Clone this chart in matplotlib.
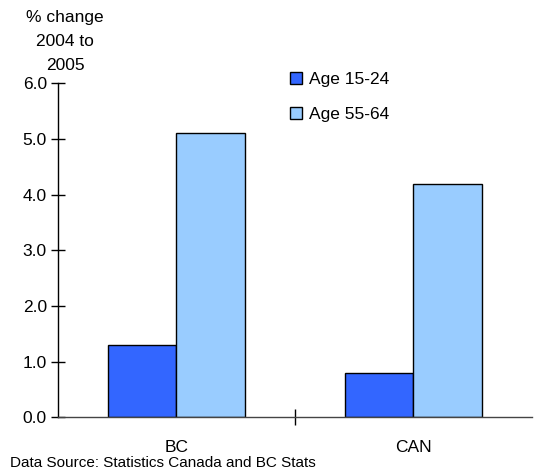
import numpy as np
import matplotlib.pyplot as plt

plt.rcParams['font.family'] = ['Liberation Sans', 'DejaVu Sans']

regions = ['BC', 'CAN']
age_15_24 = [1.3, 0.8]
age_55_64 = [5.1, 4.2]
series_names = ['Age 15-24', 'Age 55-64']
yticks = [0.0, 1.0, 2.0, 3.0, 4.0, 5.0, 6.0]

fig = plt.figure(figsize=(5.39, 4.72), dpi=100)
ax = fig.add_axes([0.1076, 0.1159, 0.8794, 0.7076])

x = np.arange(len(regions))
w = 0.287
ax.bar(x - w / 2, age_15_24, w, color='#3366FF', edgecolor='black', linewidth=1, label=series_names[0])
ax.bar(x + w / 2, age_55_64, w, color='#99CCFF', edgecolor='black', linewidth=1, label=series_names[1])

ax.set_xlim(-0.5, 1.5)
ax.set_ylim(0, 6)
ax.set_yticks(yticks)
ax.set_yticklabels([f'{v:.1f}' for v in yticks], fontsize=12.5)
ax.tick_params(axis='y', direction='inout', length=10, width=1, pad=3)

ax.set_xticks(x)
ax.set_xticklabels(regions, fontsize=12.5)
ax.tick_params(axis='x', which='major', length=0, pad=16)
ax.set_xticks([0.5], minor=True)
ax.tick_params(axis='x', which='minor', direction='inout', length=12, width=1)

for s in ['top', 'right']:
    ax.spines[s].set_visible(False)
ax.spines['left'].set_linewidth(1)
ax.spines['bottom'].set_linewidth(1)
ax.spines['bottom'].set_color('#444444')

fig.text(65 / 539, 1 - 10 / 472, '% change\n2004 to\n2005', ha='center', va='top',
         fontsize=12.5, linespacing=1.75)

ax.legend(loc='upper left', bbox_to_anchor=(274 / 539, 1 - 56 / 472), bbox_transform=fig.transFigure,
          frameon=False, fontsize=12.5, handlelength=0.7, handleheight=0.7,
          handletextpad=0.4, labelspacing=1.15)

fig.text(10 / 539, 1 - 463 / 472, 'Data Source: Statistics Canada and BC Stats', ha='left', va='center',
         fontsize=11)

fig.savefig('out.png', dpi=100)
